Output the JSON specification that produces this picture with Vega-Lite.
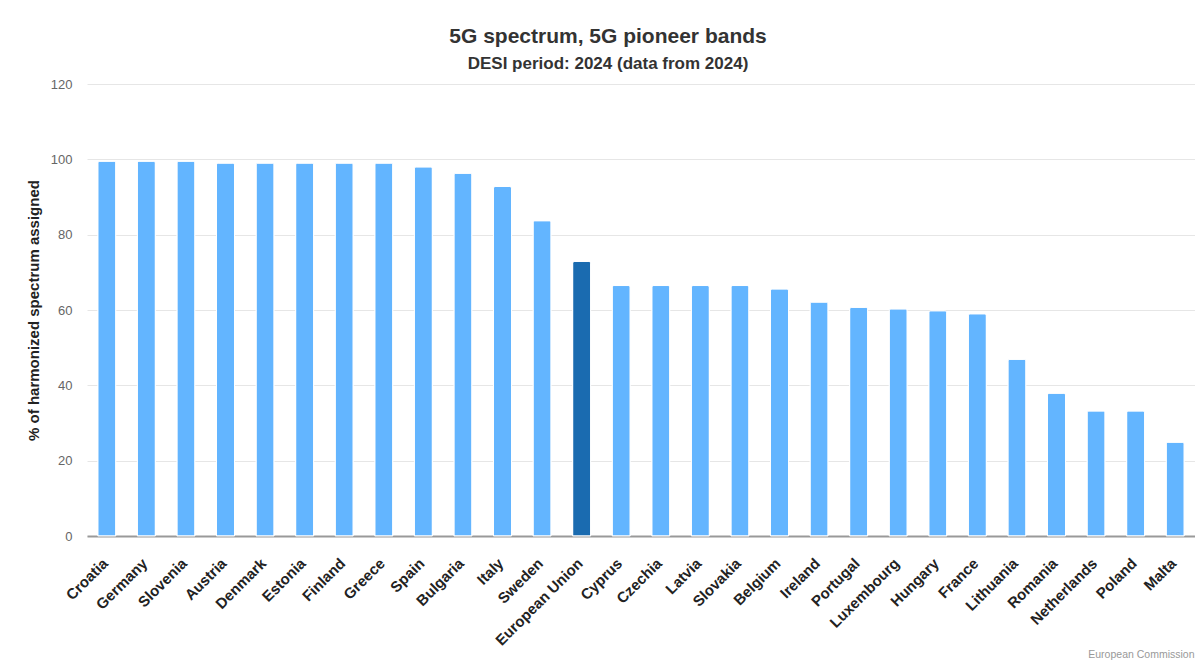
{
  "$schema": "https://vega.github.io/schema/vega-lite/v6.json",
  "width": 1108,
  "height": 452,
  "autosize": {"type": "none"},
  "padding": {"left": 87, "top": 84, "right": 0, "bottom": 124},
  "background": "white",
  "title": {
    "text": "5G spectrum, 5G pioneer bands",
    "subtitle": "DESI period: 2024 (data from 2024)",
    "anchor": "middle",
    "dx": -33,
    "offset": 6,
    "fontSize": 21,
    "fontWeight": "bold",
    "color": "#333333",
    "subtitleFontSize": 17,
    "subtitleFontWeight": "bold",
    "subtitleColor": "#333333",
    "subtitlePadding": 9
  },
  "data": {
    "values": [
      {"country": "Croatia", "value": 99.5},
      {"country": "Germany", "value": 99.5},
      {"country": "Slovenia", "value": 99.5},
      {"country": "Austria", "value": 99.0},
      {"country": "Denmark", "value": 99.0},
      {"country": "Estonia", "value": 99.0},
      {"country": "Finland", "value": 99.0},
      {"country": "Greece", "value": 99.0},
      {"country": "Spain", "value": 98.0},
      {"country": "Bulgaria", "value": 96.3},
      {"country": "Italy", "value": 92.8},
      {"country": "Sweden", "value": 83.7},
      {"country": "European Union", "value": 72.9},
      {"country": "Cyprus", "value": 66.5},
      {"country": "Czechia", "value": 66.5},
      {"country": "Latvia", "value": 66.5},
      {"country": "Slovakia", "value": 66.5},
      {"country": "Belgium", "value": 65.6},
      {"country": "Ireland", "value": 62.1},
      {"country": "Portugal", "value": 60.7},
      {"country": "Luxembourg", "value": 60.3},
      {"country": "Hungary", "value": 59.8},
      {"country": "France", "value": 59.0},
      {"country": "Lithuania", "value": 46.9},
      {"country": "Romania", "value": 37.9},
      {"country": "Netherlands", "value": 33.2},
      {"country": "Poland", "value": 33.2},
      {"country": "Malta", "value": 24.9}
    ]
  },
  "mark": {
    "type": "bar",
    "stroke": "white",
    "strokeWidth": 1,
    "cornerRadiusTopLeft": 2,
    "cornerRadiusTopRight": 2
  },
  "encoding": {
    "x": {
      "field": "country",
      "type": "nominal",
      "sort": null,
      "scale": {"paddingInner": 0.545, "paddingOuter": 0.2725},
      "axis": {
        "title": "European Commission",
        "titleFontSize": 10.5,
        "titleFontWeight": "normal",
        "titleColor": "#999999",
        "titleX": 1107,
        "titleY": 121,
        "titleAlign": "right",
        "titleAnchor": null,
        "titleBaseline": "alphabetic",
        "labelAngle": -45,
        "labelAlign": "right",
        "labelBaseline": "alphabetic",
        "labelPadding": 28,
        "labelOffset": 2,
        "labelFontSize": 15,
        "labelFontWeight": "bold",
        "labelColor": "#222222",
        "labelOverlap": false,
        "ticks": false,
        "tickSize": 0,
        "domainColor": "#999999",
        "domainWidth": 2
      }
    },
    "y": {
      "field": "value",
      "type": "quantitative",
      "scale": {"domain": [0, 120], "nice": false},
      "axis": {
        "title": "% of harmonized spectrum assigned",
        "titleFontSize": 15,
        "titleFontWeight": "bold",
        "titleColor": "#222222",
        "titleAngle": -90,
        "titleX": -54,
        "titleY": 226,
        "titleAlign": "center",
        "titleBaseline": "middle",
        "values": [0, 20, 40, 60, 80, 100, 120],
        "labelFontSize": 13,
        "labelColor": "#666666",
        "labelPadding": 15,
        "ticks": false,
        "tickSize": 0,
        "domain": false,
        "gridColor": "#e6e6e6",
        "gridWidth": 1
      }
    },
    "color": {
      "condition": {"test": "datum.country === 'European Union'", "value": "#1a6bb0"},
      "value": "#63b5ff"
    }
  },
  "config": {
    "font": "Liberation Sans",
    "view": {"stroke": null}
  }
}
